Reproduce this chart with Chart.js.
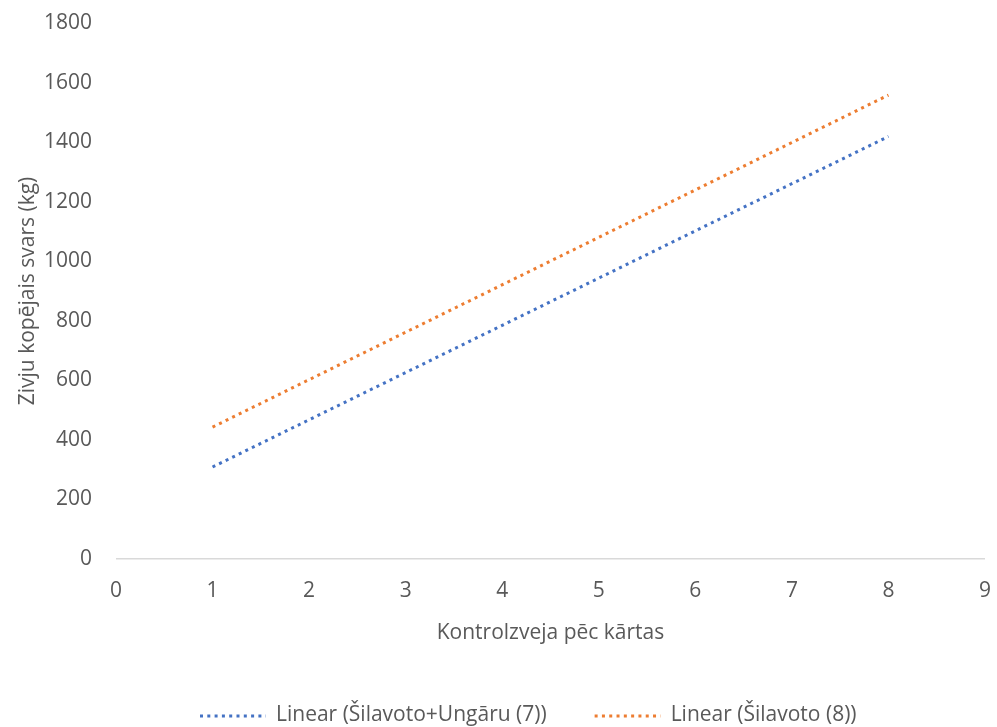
<!DOCTYPE html>
<html>
<head>
<meta charset="utf-8">
<script src="https://cdn.jsdelivr.net/npm/chart.js@4.4.0/dist/chart.umd.min.js"></script>
<style>
  html, body { margin: 0; padding: 0; background: #fff; }
  #wrap { width: 997px; height: 727px; }
</style>
</head>
<body>
<div id="wrap"><canvas id="trendChart" width="997" height="727"></canvas></div>
<script>
// Trendline end points (x = kontrolzveja, y = kg)
const seriesNames = ['Linear (Šilavoto+Ungāru (7))', 'Linear (Šilavoto (8))'];
const xPoints = [1, 8];
const blueValues = [309, 1419];
const orangeValues = [443, 1558];
const xTicks = [0, 1, 2, 3, 4, 5, 6, 7, 8, 9];
const yTicks = [0, 200, 400, 600, 800, 1000, 1200, 1400, 1600, 1800];

const grey = '#595959';
const fontFamily = '"Open Sans", "Liberation Sans", sans-serif';
const font = { family: fontFamily, size: 21 };

function toPoints(values) {
    return xPoints.map((x, i) => ({ x: x, y: values[i] }));
}

// Legend drawn under the axis title, dotted samples like the lines
const dottedLegend = {
    id: 'dottedLegend',
    afterDraw(chart, args, opts) {
        const c = chart.ctx;
        c.save();
        c.font = `${font.size}px ${fontFamily}`;
        c.textBaseline = 'middle';
        let x = opts.left;
        chart.data.datasets.forEach(ds => {
            c.strokeStyle = ds.borderColor;
            c.lineWidth = ds.borderWidth;
            c.setLineDash(ds.borderDash);
            c.beginPath();
            c.moveTo(x, opts.y);
            c.lineTo(x + opts.sample, opts.y);
            c.stroke();
            c.setLineDash([]);
            c.fillStyle = grey;
            c.fillText(ds.label, x + opts.sample + 10, opts.y - 1);
            x += opts.sample + 10 + c.measureText(ds.label).width + opts.gap;
        });
        c.restore();
    }
};

const ctx = document.getElementById('trendChart').getContext('2d');
new Chart(ctx, {
    type: 'line',
    data: {
        datasets: [{
            label: seriesNames[0],
            data: toPoints(blueValues),
            borderColor: '#4472C4',
            backgroundColor: '#4472C4',
            borderWidth: 3,
            borderDash: [3, 4.3],
            pointRadius: 0,
            fill: false
        }, {
            label: seriesNames[1],
            data: toPoints(orangeValues),
            borderColor: '#ED7D31',
            backgroundColor: '#ED7D31',
            borderWidth: 3,
            borderDash: [3, 4.3],
            pointRadius: 0,
            fill: false
        }]
    },
    plugins: [dottedLegend],
    options: {
        responsive: false,
        animation: false,
        layout: { padding: { top: 23, right: 12, left: 0, bottom: 68 } },
        plugins: {
            tooltip: { enabled: false },
            legend: { display: false },
            dottedLegend: { left: 200, y: 716, sample: 66, gap: 48 }
        },
        scales: {
            x: {
                type: 'linear',
                min: 0,
                max: 9,
                afterBuildTicks: axis => { axis.ticks = xTicks.map(v => ({ value: v })); },
                afterFit: axis => {
                    axis.height = 100;
                    axis.paddingLeft = 0;
                    axis.paddingRight = 0;
                },
                grid: { display: false, drawTicks: false },
                border: { display: false },
                ticks: { color: grey, font: font, padding: 19 },
                title: { display: true, text: 'Kontrolzveja pēc kārtas', color: grey, font: font, padding: { top: 0, bottom: 13 } }
            },
            y: {
                min: 0,
                max: 1800,
                afterBuildTicks: axis => { axis.ticks = yTicks.map(v => ({ value: v })); },
                afterFit: axis => {
                    axis.width = 116;
                    axis.paddingTop = 0;
                    axis.paddingBottom = 0;
                },
                grid: {
                    drawTicks: false,
                    color: c => c.tick && c.tick.value === 0 ? '#d9d9d9' : 'rgba(0,0,0,0)',
                    lineWidth: 1.5
                },
                border: { display: false },
                ticks: { color: grey, font: font, padding: 24, callback: v => String(v) },
                title: { display: true, text: 'Zivju kopējais svars (kg)', color: grey, font: font, padding: { top: 15, bottom: 0 } }
            }
        }
    }
});
</script>
</body>
</html>
